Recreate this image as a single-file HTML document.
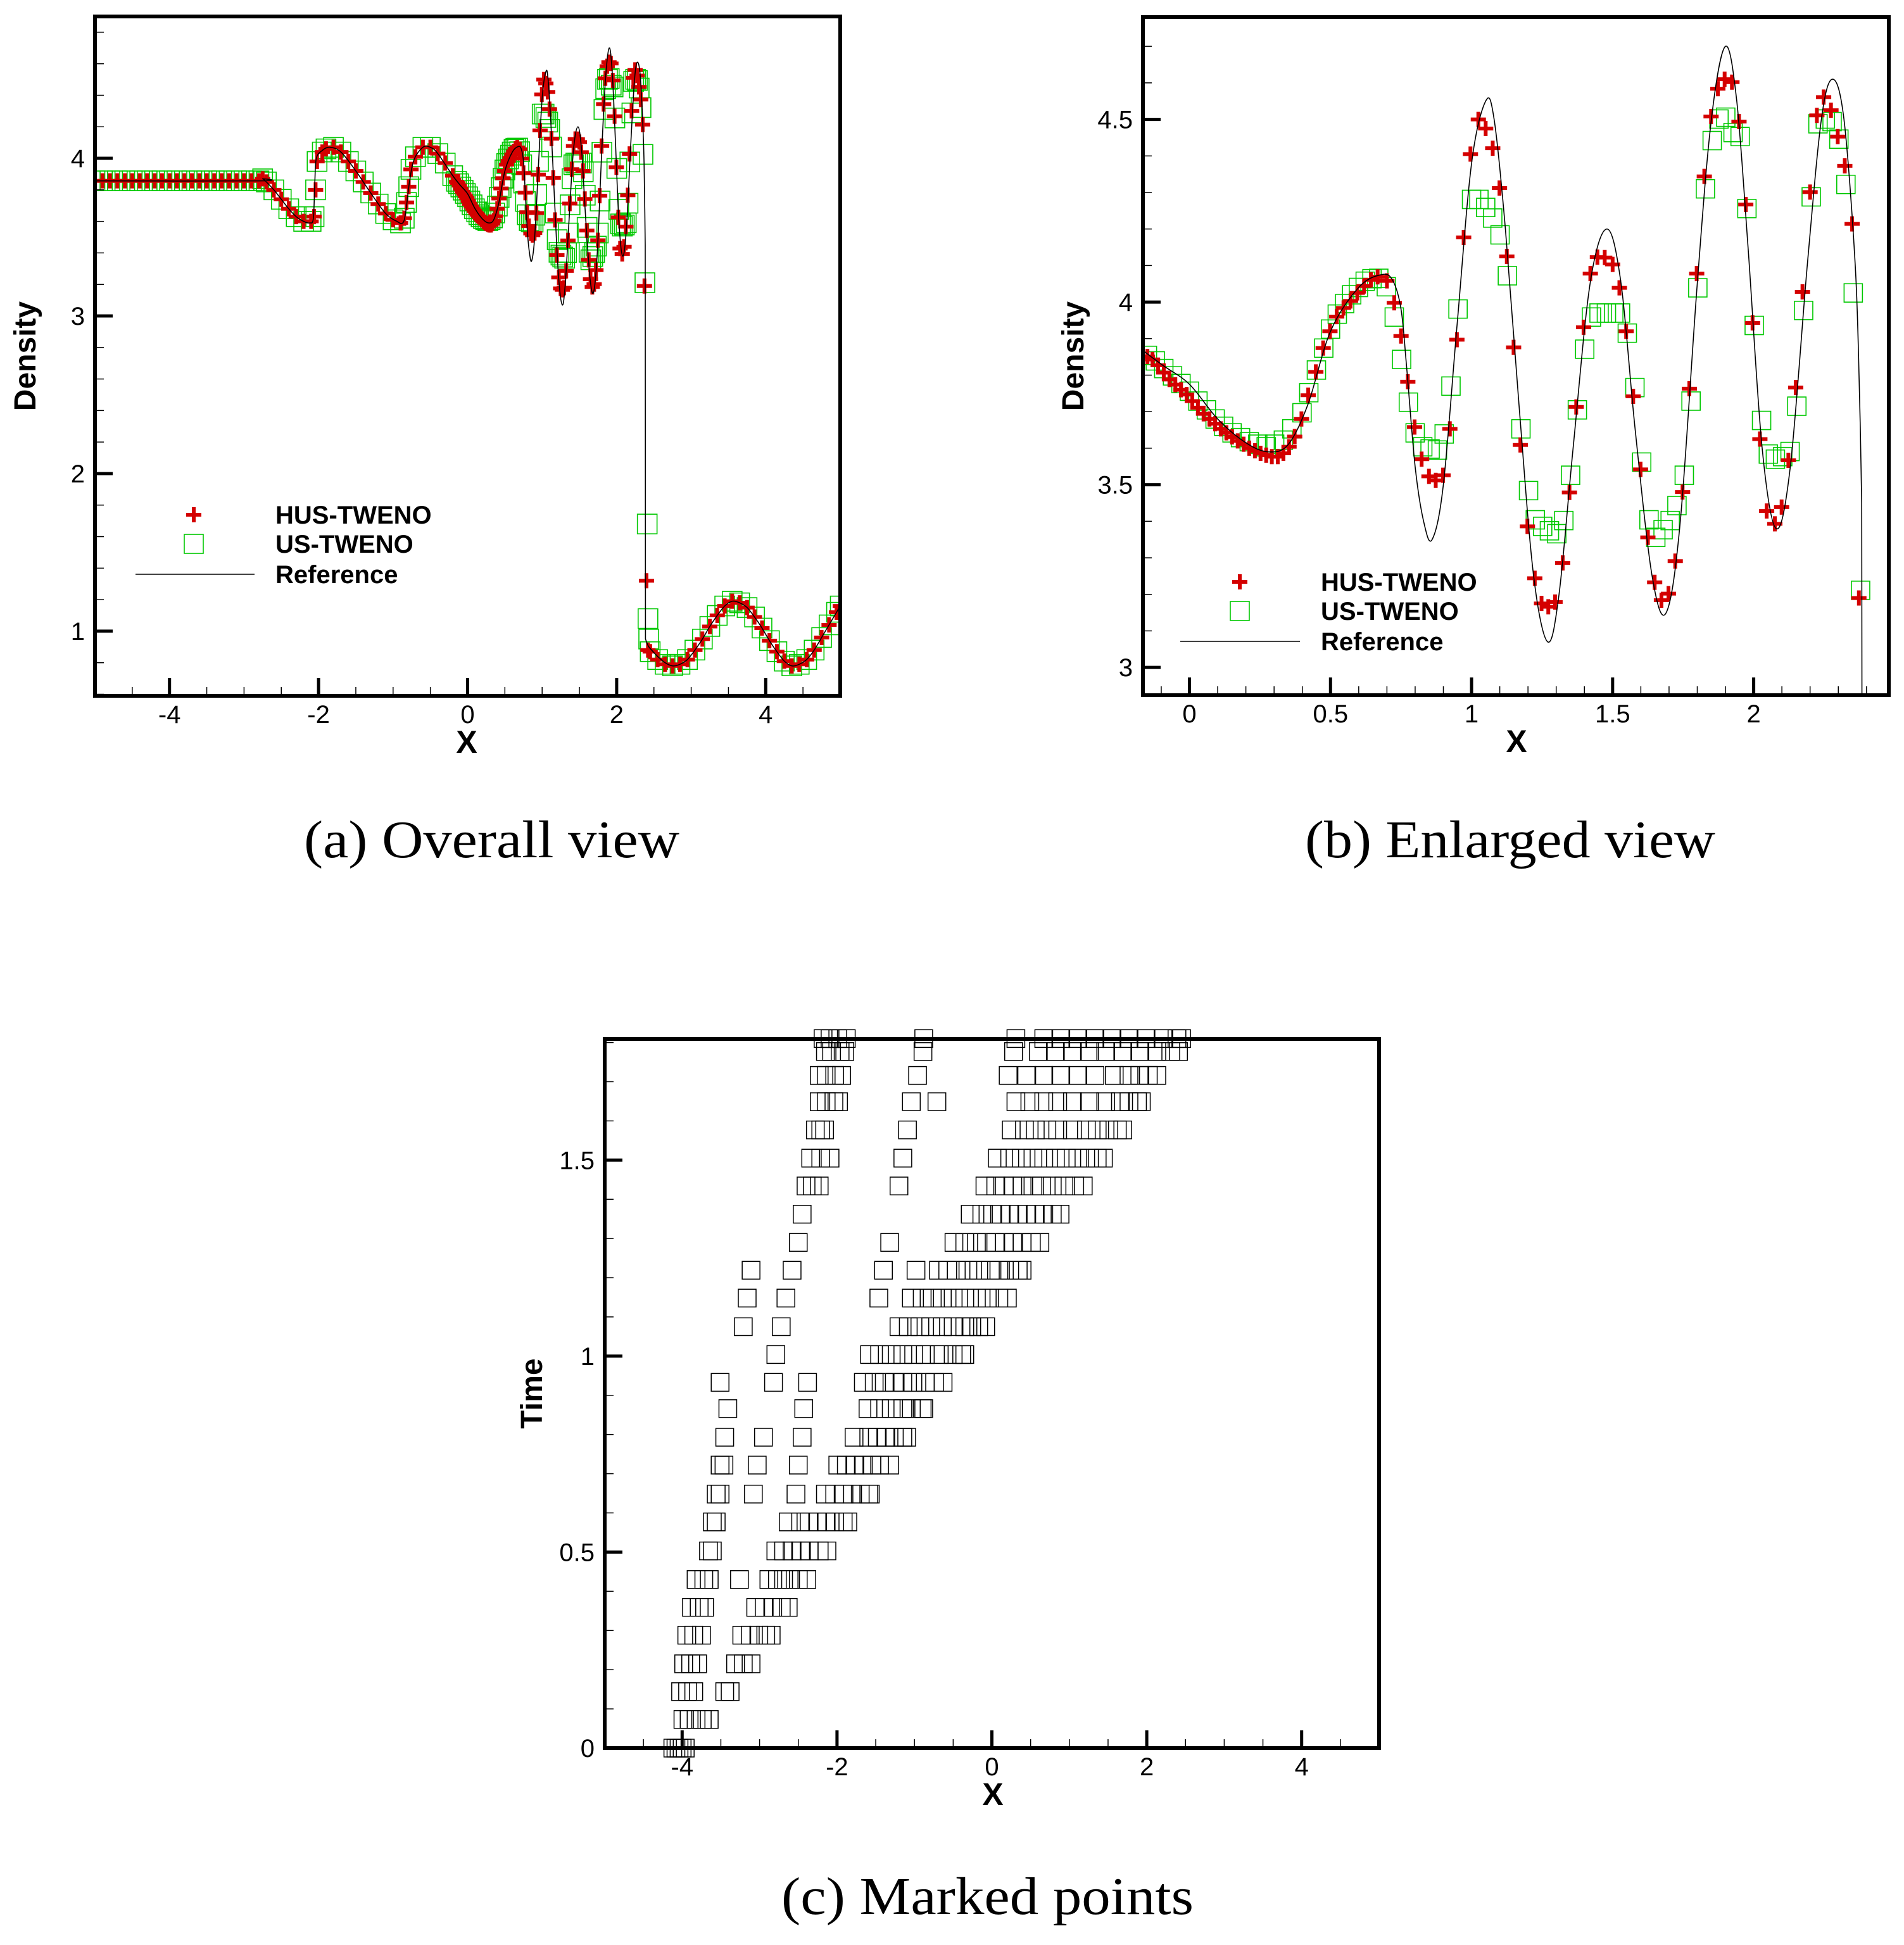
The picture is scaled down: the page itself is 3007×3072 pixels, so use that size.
<!DOCTYPE html>
<html><head><meta charset="utf-8">
<style>html,body{margin:0;padding:0;background:#fff}svg{display:block}</style>
</head><body>
<svg id="fig" xmlns="http://www.w3.org/2000/svg" width="3007" height="3072" viewBox="0 0 3007 3072" font-family="Liberation Sans, sans-serif">
<rect x="0" y="0" width="3007" height="3072" fill="#fff"/>
<text x="480" y="1354" font-family="Liberation Serif, serif" font-size="84" textLength="593" lengthAdjust="spacingAndGlyphs">(a) Overall view</text>
<text x="2061" y="1354" font-family="Liberation Serif, serif" font-size="84" textLength="648" lengthAdjust="spacingAndGlyphs">(b) Enlarged view</text>
<text x="1234" y="3023" font-family="Liberation Serif, serif" font-size="84" textLength="651" lengthAdjust="spacingAndGlyphs">(c) Marked points</text>
</svg>
<script>
// ---------- data ----------
const smoothPreX = [-5.0,-4.9,-4.8,-4.7,-4.6,-4.5,-4.4,-4.3,-4.2,-4.1,-4.0,-3.9,-3.8,-3.7,-3.6,-3.5,-3.4,-3.3,-3.2,-3.1,-3.0,-2.9,-2.8,
 -2.75,-2.7,-2.6,-2.5,-2.4,-2.3,-2.2,-2.1,-2.06,-2.04,-2.02,-1.95,-1.9,-1.8,-1.7,-1.6,-1.5,-1.4,-1.3,-1.2,-1.1,-1.0,-0.9,-0.85,-0.82,-0.79,-0.76,-0.7,-0.6,-0.5,-0.4,-0.3,-0.2];
const smoothPreY = [3.857,3.857,3.857,3.857,3.857,3.857,3.857,3.857,3.857,3.857,3.857,3.857,3.857,3.857,3.857,3.857,3.857,3.857,3.857,3.857,3.857,3.857,3.857,
 3.87,3.85,3.80,3.74,3.68,3.63,3.60,3.60,3.63,3.80,3.98,4.04,4.06,4.07,4.04,3.98,3.92,3.85,3.78,3.71,3.65,3.61,3.59,3.62,3.72,3.82,3.93,4.01,4.07,4.07,4.03,3.97,3.89];
const smoothPostX = [2.45,2.55,2.65,2.75,2.85,2.95,3.05,3.15,3.25,3.35,3.45,3.55,3.65,3.75,3.85,3.95,4.05,4.15,4.25,4.35,4.45,4.55,4.65,4.75,4.85,4.95,5.0];
const smoothPostY = [0.87,0.82,0.79,0.78,0.79,0.82,0.88,0.95,1.03,1.10,1.16,1.19,1.18,1.15,1.09,1.02,0.94,0.87,0.81,0.78,0.79,0.82,0.88,0.96,1.04,1.12,1.16];

const husMidX = [-0.149,-0.131,-0.111,-0.091,-0.071,-0.050,-0.030,-0.010,0.010,0.030,0.050,0.071,0.091,0.111,0.131,0.151,0.171,0.192,0.212,0.232,0.252,0.272,0.292,0.313,0.333,0.353,0.373,0.397,0.421,0.448,0.474,0.498,0.522,0.546,0.571,0.595,0.619,0.643,0.667,0.700,0.726,0.750,0.774,0.798,0.823,0.849,0.873,0.899,0.923,0.948,0.972,0.996,1.024,1.050,1.075,1.099,1.125,1.149,1.173,1.198,1.224,1.248,1.272,1.296,1.323,1.347,1.371,1.397,1.421,1.446,1.472,1.500,1.524,1.548,1.573,1.599,1.625,1.649,1.673,1.698,1.722,1.748,1.772,1.798,1.825,1.849,1.873,1.897,1.923,1.948,1.972,1.996,2.022,2.046,2.075,2.099,2.123,2.149,2.173,2.200,2.224,2.248,2.274,2.298,2.323,2.349,2.373,2.400,2.420];
const husMidY = [3.851,3.843,3.827,3.807,3.788,3.774,3.760,3.747,3.729,3.711,3.694,3.680,3.667,3.653,3.642,3.631,3.620,3.611,3.600,3.593,3.586,3.581,3.577,3.577,3.586,3.604,3.632,3.680,3.745,3.809,3.874,3.920,3.960,3.984,4.003,4.025,4.044,4.061,4.069,4.058,3.998,3.907,3.782,3.658,3.570,3.523,3.512,3.526,3.653,3.897,4.177,4.405,4.500,4.475,4.421,4.312,4.125,3.876,3.609,3.386,3.244,3.175,3.166,3.179,3.286,3.479,3.713,3.931,4.078,4.123,4.122,4.103,4.039,3.920,3.742,3.542,3.356,3.233,3.184,3.202,3.291,3.480,3.763,4.078,4.344,4.508,4.584,4.610,4.602,4.494,4.267,3.943,3.625,3.428,3.393,3.439,3.567,3.766,4.028,4.301,4.511,4.561,4.525,4.453,4.373,4.214,3.190,1.32,0.88];

const usMidX = [-0.149,-0.121,-0.091,-0.060,-0.030,0.000,0.030,0.060,0.091,0.121,0.151,0.181,0.212,0.242,0.272,0.302,0.333,0.363,0.399,0.423,0.450,0.476,0.500,0.524,0.550,0.575,0.599,0.623,0.647,0.671,0.698,0.726,0.752,0.776,0.800,0.827,0.853,0.879,0.903,0.927,0.952,1.000,1.026,1.050,1.075,1.101,1.127,1.175,1.202,1.226,1.252,1.276,1.302,1.327,1.351,1.375,1.401,1.425,1.452,1.478,1.504,1.528,1.552,1.579,1.603,1.629,1.653,1.679,1.704,1.728,1.754,1.778,1.802,1.829,1.853,1.877,1.901,1.927,1.952,1.976,2.002,2.028,2.052,2.077,2.103,2.129,2.153,2.177,2.204,2.228,2.254,2.278,2.302,2.327,2.353,2.379,2.41,2.42,2.43];
const usMidY = [3.854,3.839,3.818,3.798,3.777,3.756,3.729,3.705,3.680,3.660,3.642,3.629,3.618,3.611,3.604,3.611,3.622,3.653,3.697,3.752,3.814,3.874,3.926,3.967,3.996,4.020,4.040,4.057,4.064,4.065,4.042,3.959,3.843,3.726,3.642,3.604,3.598,3.595,3.639,3.770,3.981,4.281,4.281,4.259,4.230,4.184,4.072,3.653,3.484,3.404,3.386,3.374,3.366,3.402,3.526,3.705,3.871,3.959,3.970,3.970,3.970,3.970,3.915,3.766,3.562,3.404,3.356,3.377,3.402,3.443,3.526,3.729,4.039,4.310,4.442,4.501,4.506,4.464,4.453,4.256,3.936,3.676,3.584,3.570,3.577,3.591,3.715,3.977,4.288,4.488,4.501,4.494,4.446,4.322,4.025,3.211,1.68,1.08,0.95];

const husX = smoothPreX.concat(husMidX, smoothPostX);
const husY = smoothPreY.concat(husMidY, smoothPostY);
const usX = smoothPreX.concat(usMidX, smoothPostX);
const usY = smoothPreY.concat(usMidY, smoothPostY);

const refX = [-5,-2.8,-2.75,-2.7,-2.6,-2.5,-2.4,-2.3,-2.2,-2.12,-2.07,-2.05,-2.03,-1.95,-1.85,-1.7,-1.5,-1.3,-1.1,-0.95,-0.87,-0.83,-0.78,-0.72,-0.6,-0.5,-0.4,-0.2,-0.1,0,0.1,0.2,0.28,0.35,0.42,0.5,0.6,0.68,0.72,0.75,0.77,0.80,0.83,0.86,0.90,0.95,1.00,1.05,1.08,1.12,1.17,1.22,1.27,1.31,1.36,1.42,1.48,1.53,1.58,1.64,1.69,1.74,1.80,1.85,1.90,1.94,1.98,2.03,2.08,2.13,2.19,2.24,2.28,2.32,2.36,2.375,2.383,2.387,2.42,2.45,2.55,2.65,2.75,2.85,2.95,3.05,3.15,3.25,3.35,3.45,3.55,3.65,3.75,3.85,3.95,4.05,4.15,4.25,4.35,4.45,4.55,4.65,4.75,4.85,4.95,5.0];
const refY = [3.857,3.857,3.87,3.85,3.80,3.74,3.68,3.63,3.60,3.59,3.62,3.85,4.00,4.05,4.07,4.04,3.92,3.78,3.65,3.60,3.59,3.66,3.85,3.99,4.07,4.07,4.03,3.89,3.83,3.775,3.68,3.615,3.59,3.61,3.72,3.92,4.04,4.075,4.06,3.98,3.82,3.55,3.40,3.35,3.50,3.95,4.38,4.55,4.50,4.20,3.70,3.25,3.07,3.20,3.60,4.05,4.20,4.05,3.65,3.25,3.15,3.40,4.05,4.50,4.70,4.55,4.15,3.60,3.38,3.55,4.10,4.50,4.61,4.50,4.10,3.75,3.45,0.95,0.91,0.89,0.84,0.80,0.78,0.79,0.82,0.88,0.95,1.03,1.10,1.16,1.19,1.18,1.15,1.09,1.02,0.94,0.87,0.81,0.78,0.79,0.82,0.88,0.96,1.04,1.12,1.16];

// panel (c): marked points rows
const markTimes = [0,0.073,0.144,0.215,0.288,0.359,0.430,0.503,0.577,0.648,0.722,0.793,0.866,0.933,1.004,1.075,1.148,1.219,1.290,1.362,1.434,1.505,1.577,1.649,1.716,1.777,1.810];
const markRows = [
 [-4.12,-4.08,-4.04,-4.0,-3.96],
 [-3.99,-3.91,-3.82,-3.74,-3.65],
 [-4.02,-3.93,-3.85,-3.45,-3.38],
 [-3.98,-3.89,-3.80,-3.31,-3.21,-3.11],
 [-3.94,-3.85,-3.75,-3.23,-3.12,-3.01,-2.92,-2.85],
 [-3.88,-3.78,-3.71,-3.05,-2.94,-2.83,-2.72,-2.63],
 [-3.82,-3.72,-3.65,-3.26,-2.88,-2.77,-2.69,-2.60,-2.50,-2.39],
 [-3.66,-3.61,-2.79,-2.69,-2.58,-2.47,-2.36,-2.23,-2.13],
 [-3.61,-3.56,-2.63,-2.47,-2.36,-2.25,-2.14,-2.03,-1.92,-1.86],
 [-3.56,-3.51,-3.08,-2.53,-2.15,-2.03,-1.91,-1.80,-1.70,-1.59,-1.57],
 [-3.51,-3.46,-3.03,-2.50,-1.99,-1.88,-1.77,-1.66,-1.55,-1.45,-1.32],
 [-3.45,-2.95,-2.45,-1.78,-1.59,-1.48,-1.37,-1.26,-1.15,-1.10],
 [-3.41,-2.43,-1.60,-1.45,-1.30,-1.15,-1.04,-0.90,-0.88],
 [-3.51,-2.82,-2.38,-1.66,-1.52,-1.39,-1.26,-1.15,-1.02,-0.86,-0.74,-0.63],
 [-2.79,-1.58,-1.45,-1.30,-1.15,-1.01,-0.86,-0.68,-0.50,-0.39,-0.35],
 [-3.21,-2.72,-1.20,-1.08,-0.93,-0.79,-0.64,-0.50,-0.35,-0.26,-0.17,-0.08],
 [-3.16,-2.66,-1.46,-1.04,-0.90,-0.77,-0.64,-0.50,-0.35,-0.20,-0.06,0.09,0.20],
 [-3.11,-2.58,-1.40,-0.98,-0.69,-0.57,-0.46,-0.31,-0.17,-0.02,0.09,0.23,0.34,0.39],
 [-2.50,-1.32,-0.49,-0.35,-0.20,-0.07,0.05,0.16,0.27,0.39,0.51,0.62],
 [-2.45,-0.28,-0.13,0.01,0.12,0.23,0.34,0.45,0.56,0.67,0.78,0.88],
 [-2.40,-2.32,-2.23,-1.20,-0.09,0.05,0.16,0.27,0.39,0.53,0.64,0.78,0.93,1.07,1.18],
 [-2.34,-2.21,-2.09,-1.15,0.07,0.23,0.38,0.53,0.67,0.82,0.96,1.11,1.26,1.36,1.44],
 [-2.28,-2.21,-2.16,-1.09,0.25,0.42,0.56,0.71,0.85,1.04,1.22,1.36,1.51,1.62,1.69],
 [-2.23,-2.14,-2.04,-1.98,-1.04,-0.71,0.31,0.49,0.67,0.85,1.04,1.26,1.47,1.66,1.77,1.88,1.93],
 [-2.23,-2.14,-2.03,-1.94,-0.96,0.21,0.45,0.67,0.89,1.11,1.33,1.58,1.77,1.91,2.02,2.13],
 [-2.15,-2.07,-1.96,-1.90,-0.89,0.28,0.60,0.82,1.04,1.26,1.47,1.69,1.91,2.13,2.31,2.41],
 [-2.18,-2.09,-1.99,-1.88,-0.88,0.31,0.67,0.89,1.11,1.33,1.55,1.77,1.99,2.21,2.39,2.45]
];

const xTicksA = ["-4","-2","0","2","4"], yTicksA = ["1","2","3","4"];
const xTicksB = ["0","0.5","1","1.5","2"], yTicksB = ["3","3.5","4","4.5"];
const xTicksC = ["-4","-2","0","2","4"], yTicksC = ["0","0.5","1","1.5"];

// ---------- drawing ----------
const NS = "http://www.w3.org/2000/svg";
const svg = document.getElementById('fig');
function el(tag, attrs, parent){ const e=document.createElementNS(NS,tag); for(const k in attrs) e.setAttribute(k,attrs[k]); (parent||svg).appendChild(e); return e; }

function makePanel(id, c){
  const g = el('g',{});
  
  
  const sx = v => c.px0 + (v-c.xmin)/(c.xmax-c.xmin)*(c.px1-c.px0);
  const sy = v => c.py1 - (v-c.ymin)/(c.ymax-c.ymin)*(c.py1-c.py0);
  const cp = el('clipPath',{id:'clip-'+id}, g);
  el('rect',{x:c.px0,y:c.py0,width:c.px1-c.px0,height:c.py1-c.py0}, cp);
  const plot = el('g',{'clip-path':'url(#clip-'+id+')'}, g);
  
  
  const tg = el('g',{stroke:'#000'}, g);
  
  
  const nMinX = Math.round((c.xmax-c.xmin)/c.xMinor);
  for(let i=0;i<=nMinX+1;i++){
    const v = Math.ceil(c.xmin/c.xMinor)*c.xMinor + i*c.xMinor;
    if(v>c.xmax+1e-9) break;
    const major = Math.abs(v/c.xMajor - Math.round(v/c.xMajor))<1e-6;
    el('line',{x1:sx(v),x2:sx(v),y1:c.py1,y2:c.py1-(major?28:14),'stroke-width':major?5:1.5}, tg);
  }
  const nMinY = Math.round((c.ymax-c.ymin)/c.yMinor);
  for(let i=0;i<=nMinY+1;i++){
    const v = Math.ceil(c.ymin/c.yMinor-1e-9)*c.yMinor + i*c.yMinor;
    if(v>c.ymax+1e-9) break;
    const major = Math.abs(v/c.yMajor - Math.round(v/c.yMajor))<1e-6;
    el('line',{x1:c.px0,x2:c.px0+(major?28:14),y1:sy(v),y2:sy(v),'stroke-width':major?5:1.5}, tg);
  }
  c.xLabels.forEach(s=>{
    const t = el('text',{x:sx(parseFloat(s)),y:c.py1+43,'font-size':40,'text-anchor':'middle'}, g);
    
    
    t.textContent = s;
  });
  c.yLabels.forEach(s=>{
    const t = el('text',{x:c.px0-16,y:sy(parseFloat(s))+14,'font-size':40,'text-anchor':'end'}, g);
    
    
    t.textContent = s;
  });
  const xt = el('text',{x:c.xTitleX,y:c.py1+90,'font-size':50,'font-weight':'bold','text-anchor':'middle'}, g);
  
  
  xt.textContent = 'X';
  const ym = (c.py0+c.py1)/2;
  const yt = el('text',{x:c.yTitleX,y:ym,'font-size':48,'font-weight':'bold','text-anchor':'middle',transform:'rotate(-90 '+c.yTitleX+' '+ym+')'}, g);
  
  
  yt.textContent = c.yTitle;
  return {g, plot, sx, sy, frame: ()=>{ const f=el('rect',{x:c.px0,y:c.py0,width:c.px1-c.px0,height:c.py1-c.py0,fill:'none',stroke:'#000','stroke-width':6}, g);   }};
}

function refPath(P){
  const pts = refX.map((x,i)=>[P.sx(x),P.sy(refY[i])]);
  let d = 'M'+pts[0][0].toFixed(1)+','+pts[0][1].toFixed(1);
  for(let i=0;i<pts.length-1;i++){
    const p0=pts[Math.max(0,i-1)], p1=pts[i], p2=pts[i+1], p3=pts[Math.min(pts.length-1,i+2)];
    const steep = Math.abs((refY[i+1]-refY[i])/(refX[i+1]-refX[i]))>40;
    if(steep){ d+=' L'+p2[0].toFixed(1)+','+p2[1].toFixed(1); continue; }
    const s0 = (i>0 && Math.abs((refY[i]-refY[i-1])/(refX[i]-refX[i-1]))>40) ? p1 : p0;
    const s3 = (i+2<pts.length && Math.abs((refY[i+2]-refY[i+1])/(refX[i+2]-refX[i+1]))>40) ? p2 : p3;
    const c1=[p1[0]+(p2[0]-s0[0])/6, p1[1]+(p2[1]-s0[1])/6];
    const c2=[p2[0]-(s3[0]-p1[0])/6, p2[1]-(s3[1]-p1[1])/6];
    d+=' C'+c1[0].toFixed(1)+','+c1[1].toFixed(1)+' '+c2[0].toFixed(1)+','+c2[1].toFixed(1)+' '+p2[0].toFixed(1)+','+p2[1].toFixed(1);
  }
  return d;
}

function drawSquare(parent, cx, cy, s, color, w, name){
  const r = el('rect',{x:cx-s/2,y:cy-s/2,width:s,height:s,fill:'none',stroke:color,'stroke-width':w}, parent);
  
  
}
function drawPlus(parent, cx, cy, s, name){
  const p = el('path',{d:'M'+(cx-s/2)+','+cy+'H'+(cx+s/2)+'M'+cx+','+(cy-s/2)+'V'+(cy+s/2),stroke:'#d40000','stroke-width':6,fill:'none'}, parent);
  
  
}

function densityPanel(id, cfg, leg){
  const P = makePanel(id, cfg);
  const us = el('g',{}, P.plot);
  
  
  usX.forEach((x,i)=>drawSquare(us, P.sx(x), P.sy(usY[i]), cfg.sq, '#00c800', 1.6, 'us-tweno-marker'));
  const hus = el('g',{}, P.plot);
  
  
  husX.forEach((x,i)=>drawPlus(hus, P.sx(x), P.sy(husY[i]), 24, 'hus-tweno-marker'));
  const line = el('path',{d:refPath(P),fill:'none',stroke:'#000','stroke-width':1.6}, P.plot);
  
  
  const lg = el('g',{}, P.g);
  
  
  drawPlus(lg, leg.mx, leg.y1, 24, 'legend-hus-symbol');
  drawSquare(lg, leg.mx, leg.y2, 30, '#00c800', 1.6, 'legend-us-symbol');
  const ll = el('line',{x1:leg.lx0,x2:leg.lx1,y1:leg.y3,y2:leg.y3,stroke:'#000','stroke-width':1.6}, lg);
  
  
  [['HUS-TWENO',leg.y1,'legend-entry-hus'],['US-TWENO',leg.y2,'legend-entry-us'],['Reference',leg.y3,'legend-entry-reference']].forEach(a=>{
    const t = el('text',{x:leg.tx,y:a[1]+14,'font-size':40,'font-weight':'bold'}, lg);
    
    
    t.textContent = a[0];
  });
  P.frame();
}

densityPanel('a', {px0:150,px1:1327,py0:26,py1:1099,xmin:-5,xmax:5,ymin:0.59,ymax:4.90,xMinor:0.5,xMajor:2,yMinor:0.2,yMajor:1,
  xLabels:xTicksA,yLabels:yTicksA,xTitleX:737,yTitleX:56,yTitle:'Density',sq:31},
  {mx:306,y1:813,y2:859,y3:907,lx0:214,lx1:402,tx:435});
densityPanel('b', {px0:1805,px1:2983,py0:27,py1:1098,xmin:-0.165,xmax:2.479,ymin:2.924,ymax:4.78,xMinor:0.1,xMajor:0.5,yMinor:0.1,yMajor:0.5,
  xLabels:xTicksB,yLabels:yTicksB,xTitleX:2395,yTitleX:1711,yTitle:'Density',sq:29},
  {mx:1958,y1:919,y2:965,y3:1013,lx0:1864,lx1:2053,tx:2086});

(function(){
  const P = makePanel('c', {px0:955,px1:2178,py0:1641,py1:2761,xmin:-5,xmax:5,ymin:0,ymax:1.809,xMinor:0.5,xMajor:2,yMinor:0.1,yMajor:0.5,
    xLabels:xTicksC,yLabels:yTicksC,xTitleX:1568,yTitleX:856,yTitle:'Time'});
  const mg = el('g',{}, P.g);
  
  
  markRows.forEach((row,k)=>{
    row.forEach(x=>drawSquare(mg, P.sx(x), P.sy(markTimes[k]), 28, '#000', 1.5, 'marked-point'));
  });
  P.frame();
})();
</script>
</body></html>
